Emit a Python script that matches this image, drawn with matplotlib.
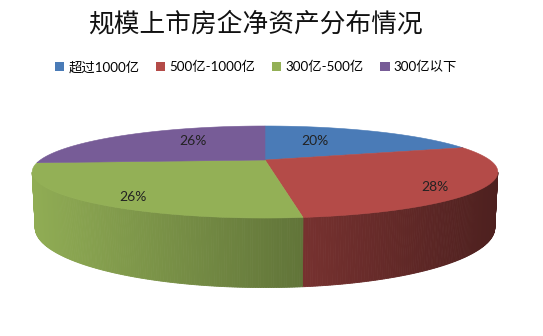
import numpy as np
import matplotlib
matplotlib.use("Agg")
import matplotlib.pyplot as plt
from matplotlib.patches import Polygon, Patch
import matplotlib.colors as mcolors

# ---- data ----
categories = ["超过1000亿", "500亿-1000亿", "300亿-500亿", "300亿以下"]
values = [20, 28, 26, 26]
labels = ["20%", "28%", "26%", "26%"]
title = "规模上市房企净资产分布情况"

# ---- style ----
top_colors = ["#4A7BB7", "#B44B48", "#93B056", "#775C97"]
label_rx = [0.43, 0.77, 0.75, 0.50]
label_rz = [0.62, 1.00, 0.92, 0.74]
W, H = 543, 336
cx, cy = 265, 160
F, ALPHA, L, T = 845.0, np.radians(11.0), 3.76, 0.24
sa, ca = np.sin(ALPHA), np.cos(ALPHA)

def proj(theta, r=1.0, y=0.0, rz=None):
    # theta: clockwise from top (far side), radians
    if rz is None:
        rz = r
    X = r * np.sin(theta)
    Z = -rz * np.cos(theta)
    depth = L - y * sa - Z * ca
    xs = F * X / depth
    ys = F * (y * ca - Z * sa) / depth
    return cx + xs, cy - ys

plt.rcParams['font.family'] = ['Lato', 'Noto Sans CJK SC', 'DejaVu Sans']
fig = plt.figure(figsize=(W / 100, H / 100), dpi=100)
ax = fig.add_axes([0, 0, 1, 1])
ax.set_xlim(0, W)
ax.set_ylim(H, 0)
ax.axis('off')

fr = np.array(values, dtype=float) / np.sum(values)
bounds = np.concatenate([[0], np.cumsum(fr)]) * 2 * np.pi

# visible side range
vis_lo, vis_hi = np.radians(105.1), np.radians(254.9)
xl, _ = proj(vis_hi)
xr, _ = proj(vis_lo)

def shade(c, f):
    r, g, b = mcolors.to_rgb(c)
    return (r * f, g * f, b * f)

# side walls
for i in range(len(values)):
    a0, a1 = max(bounds[i], vis_lo), min(bounds[i + 1], vis_hi)
    if a1 <= a0:
        continue
    n = max(int((a1 - a0) / np.radians(0.5)), 2)
    ts = np.linspace(a0, a1, n + 1)
    for j in range(n):
        t0, t1 = ts[j], ts[j + 1]
        p = [proj(t0), proj(t1), proj(t1, y=-T), proj(t0, y=-T)]
        xm = (p[0][0] + p[1][0]) / 2
        tt = (xm - xl) / (xr - xl)
        col = shade(top_colors[i], 0.98 - 0.55 * tt)
        ax.add_patch(Polygon(p, closed=True, facecolor=col, edgecolor=col, lw=0.6))

# top faces
for i in range(len(values)):
    ts = np.linspace(bounds[i], bounds[i + 1], 200)
    pts = [proj(0, r=0)] + [proj(t) for t in ts]
    ax.add_patch(Polygon(pts, closed=True, facecolor=top_colors[i],
                         edgecolor=top_colors[i], lw=0.4))

# labels
for i in range(len(values)):
    mid = (bounds[i] + bounds[i + 1]) / 2
    x, y = proj(mid, r=label_rx[i], rz=label_rz[i])
    ax.text(x, y, labels[i], ha='center', va='center', fontsize=10, color='#222222')

fig.text(255 / W, 1 - 24 / H, title, ha='center', va='center', fontsize=18.5,
         family=['Noto Sans CJK SC'], weight=300, color='#111111')

handles = [Patch(facecolor=c, edgecolor='none') for c in top_colors]
fig.legend(handles, categories, loc='center', bbox_to_anchor=(256 / W, 1 - 67 / H),
           ncol=4, frameon=False, fontsize=9.6, handlelength=0.7, handleheight=0.7,
           handletextpad=0.3, columnspacing=1.25, borderpad=0)

fig.savefig("out.png", dpi=100)
